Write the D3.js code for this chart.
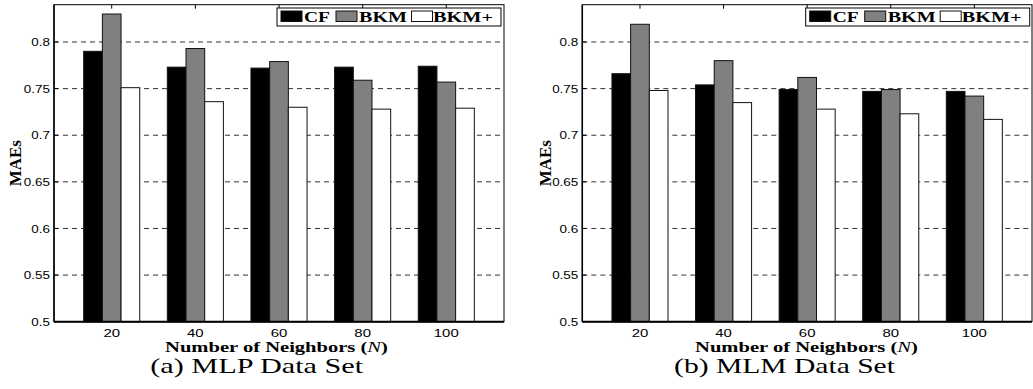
<!DOCTYPE html>
<html>
<head>
<meta charset="utf-8">
<script src="https://cdn.jsdelivr.net/npm/d3@7"></script>
<style>
  body { margin: 0; background: #fff; }
  svg { display: block; }
</style>
</head>
<body>
<svg id="chart" width="1033" height="389"></svg>
<script>
// Neighbourhood sizes on the x axis
const neighbors = [20, 40, 60, 80, 100];
const seriesNames = ["CF", "BKM", "BKM+"];
const seriesFills = ["#000000", "#808080", "#ffffff"];
const yTicks = [0.5, 0.55, 0.6, 0.65, 0.7, 0.75, 0.8];
const yTickLabels = ["0.5", "0.55", "0.6", "0.65", "0.7", "0.75", "0.8"];

// MAE per method, MLP data set
const mlpCF      = [0.790, 0.773, 0.772, 0.773, 0.774];
const mlpBKM     = [0.830, 0.793, 0.779, 0.759, 0.757];
const mlpBKMplus = [0.751, 0.736, 0.730, 0.728, 0.729];

// MAE per method, MLM data set
const mlmCF      = [0.766, 0.754, 0.749, 0.747, 0.747];
const mlmBKM     = [0.819, 0.780, 0.762, 0.749, 0.742];
const mlmBKMplus = [0.748, 0.735, 0.728, 0.723, 0.717];

const panels = [
  { left: 54, right: 504, caption: "(a) MLP Data Set", captionX: 256.7, captionW: 213,
    titleX: 276.5, legendX: 277, ytitleX: 20.7,
    series: [mlpCF, mlpBKM, mlpBKMplus] },
  { left: 582.3, right: 1032, caption: "(b) MLM Data Set", captionX: 784.5, captionW: 221,
    titleX: 806.5, legendX: 805.7, ytitleX: 550.5,
    series: [mlmCF, mlmBKM, mlmBKMplus] }
];

const plotTop = 4.7, plotBottom = 321.7;
const barW = 0.2235;           // bar width in group units
const svg = d3.select("#chart");
const serif = "'Liberation Serif', 'Times New Roman', serif";
const sans = "'Liberation Sans', Arial, Helvetica, sans-serif";

// Stretch a text element horizontally so it spans the given width
function fitWidth(sel, w, tx, ty, rot) {
  const cur = sel.node().getComputedTextLength();
  const k = w / cur;
  sel.attr("transform", `translate(${tx},${ty})` + (rot ? ` rotate(${rot})` : "") + ` scale(${k},1)`);
}

panels.forEach(p => {
  const g = svg.append("g");
  const x = d3.scaleLinear().domain([0.31, 5.69]).range([p.left, p.right]);
  const y = d3.scaleLinear().domain([0.5, 0.84]).range([plotBottom, plotTop]);

  // dashed grid
  g.append("g").selectAll("line")
    .data(yTicks.filter(t => t > 0.5))
    .join("line")
    .attr("x1", p.left).attr("x2", p.right)
    .attr("y1", d => y(d)).attr("y2", d => y(d))
    .attr("stroke", "#333").attr("stroke-width", 1)
    .attr("stroke-dasharray", "5,4");

  // bars
  p.series.forEach((vals, s) => {
    g.append("g").selectAll("rect")
      .data(vals)
      .join("rect")
      .attr("x", (d, i) => x(i + 1 + (s - 1.5) * barW))
      .attr("width", x(barW) - x(0))
      .attr("y", d => y(d))
      .attr("height", d => y(0.5) - y(d))
      .attr("fill", seriesFills[s])
      .attr("stroke", "#111")
      .attr("stroke-width", 1);
  });

  // frame
  g.append("rect")
    .attr("x", p.left).attr("y", plotTop)
    .attr("width", p.right - p.left).attr("height", plotBottom - plotTop)
    .attr("fill", "none").attr("stroke", "#000").attr("stroke-width", 1);
  g.append("line")
    .attr("x1", p.left).attr("x2", p.right)
    .attr("y1", plotBottom).attr("y2", plotBottom)
    .attr("stroke", "#000").attr("stroke-width", 2);
  g.append("line")
    .attr("x1", p.left).attr("x2", p.left)
    .attr("y1", plotTop).attr("y2", plotBottom)
    .attr("stroke", "#000").attr("stroke-width", 1.5);

  // inward tick marks
  g.append("g").selectAll("line")
    .data(neighbors)
    .join("line")
    .attr("x1", (d, i) => x(i + 1)).attr("x2", (d, i) => x(i + 1))
    .attr("y1", plotTop).attr("y2", plotTop + 4)
    .attr("stroke", "#000");
  g.append("g").selectAll("line")
    .data(yTicks)
    .join("line")
    .attr("x1", p.left).attr("x2", p.left + 4)
    .attr("y1", d => y(d)).attr("y2", d => y(d))
    .attr("stroke", "#000");

  // y tick labels
  yTicks.forEach((t, i) => {
    g.append("text")
      .attr("text-anchor", "end")
      .attr("font-family", sans).attr("font-size", 11.5)
      .attr("transform", `translate(${p.left - 4},${y(t) + 4.1}) scale(1.17,1)`)
      .text(yTickLabels[i]);
  });

  // x tick labels
  neighbors.forEach((n, i) => {
    g.append("text")
      .attr("text-anchor", "middle")
      .attr("font-family", sans).attr("font-size", 11.5)
      .attr("transform", `translate(${x(i + 1)},336.5) scale(1.3,1)`)
      .text(n);
  });

  // axis titles
  const xt = g.append("text")
    .attr("text-anchor", "middle")
    .attr("font-family", serif).attr("font-size", 15).attr("font-weight", "bold");
  xt.append("tspan").text("Number of Neighbors (");
  xt.append("tspan").attr("font-style", "italic").attr("font-weight", "normal").text("N");
  xt.append("tspan").text(")");
  fitWidth(xt, 223, p.titleX, 351.5);

  const yt = g.append("text")
    .attr("text-anchor", "middle")
    .attr("font-family", serif).attr("font-size", 17).attr("font-weight", "bold")
    .text("MAEs");
  fitWidth(yt, 46, p.ytitleX, (plotTop + plotBottom) / 2, -90);

  // caption
  const cap = g.append("text")
    .attr("text-anchor", "middle")
    .attr("font-family", serif).attr("font-size", 22)
    .text(p.caption);
  fitWidth(cap, p.captionW, p.captionX, 373);

  // legend
  const lg = g.append("g");
  lg.append("rect")
    .attr("x", p.legendX).attr("y", 8)
    .attr("width", 224).attr("height", 18)
    .attr("fill", "#fff").attr("stroke", "#000").attr("stroke-width", 1);
  const swOff = [4, 59, 134.5];
  const txOff = [27, 82, 156];
  const txW = [26, 48, 60];
  seriesNames.forEach((name, s) => {
    lg.append("rect")
      .attr("x", p.legendX + swOff[s]).attr("y", 11)
      .attr("width", 21).attr("height", 10.5)
      .attr("fill", seriesFills[s]).attr("stroke", "#111").attr("stroke-width", 1);
    const lt = lg.append("text")
      .attr("font-family", serif).attr("font-size", 15).attr("font-weight", "bold")
      .text(name);
    fitWidth(lt, txW[s], p.legendX + txOff[s], 22);
  });
});
</script>
</body>
</html>
